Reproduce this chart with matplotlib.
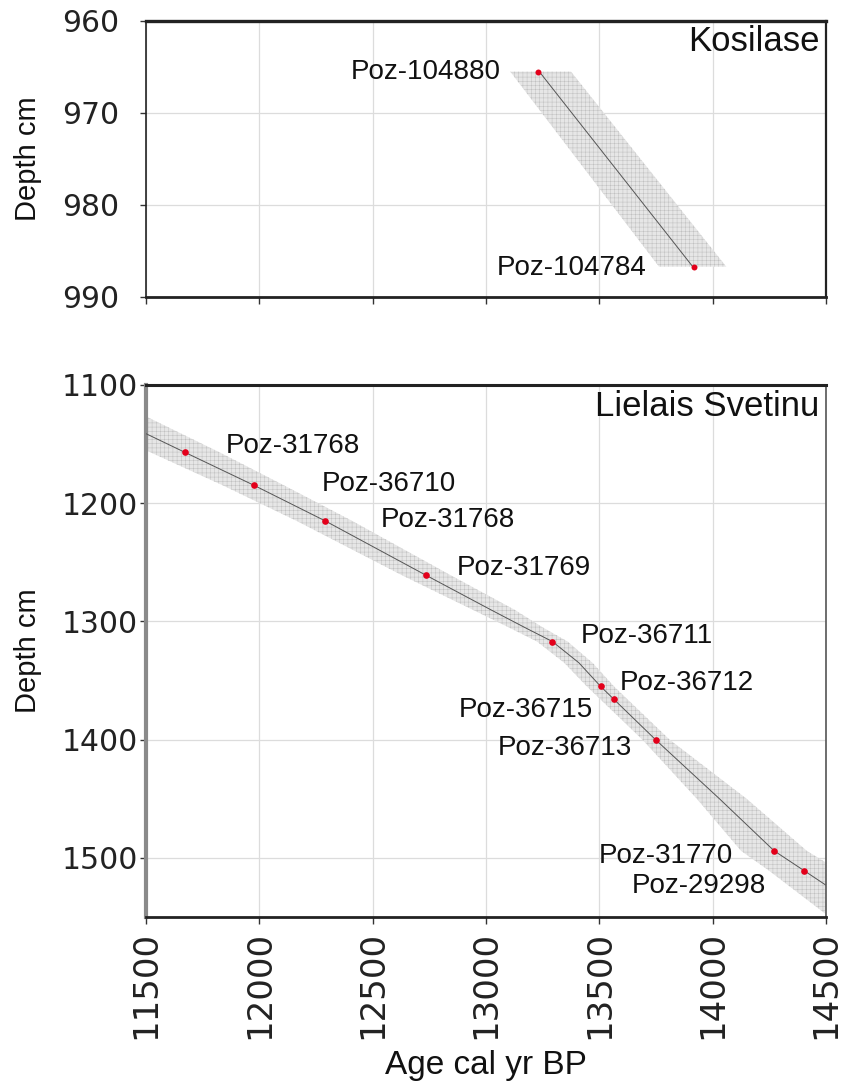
import numpy as np
import matplotlib.pyplot as plt

plt.rcParams['hatch.linewidth'] = 0.35

# Kosilase (upper panel)
kos_labels = ['Poz-104880', 'Poz-104784']
kos_age = [13228, 13916]
kos_depth = [965.5, 986.7]
kos_band_depth = [965.5, 986.7]
kos_band_min = [13107, 13763]
kos_band_max = [13375, 14060]
kos_line_age = [13235, 13912]

# Lielais Svetinu (lower panel)
lsv_labels = ['Poz-31768', 'Poz-36710', 'Poz-31768', 'Poz-31769', 'Poz-36711',
              'Poz-36715', 'Poz-36712', 'Poz-36713', 'Poz-31770', 'Poz-29298']
lsv_age = [11672, 11978, 12291, 12736, 13293, 13506, 13565, 13748, 14271, 14405]
lsv_depth = [1157, 1185, 1215, 1261, 1317, 1355, 1366, 1400, 1494, 1511]
lsv_model_depth = [1120, 1157, 1185, 1215, 1261, 1290, 1305, 1317, 1335, 1355,
                   1366, 1400, 1450, 1494, 1511, 1555]
lsv_model_age = [11270, 11672, 11978, 12291, 12736, 13020, 13170, 13293, 13410,
                 13506, 13565, 13748, 14030, 14271, 14405, 14750]
lsv_band_min = [11110, 11520, 11840, 12165, 12630, 12940, 13100, 13225, 13345,
                13445, 13505, 13690, 13930, 14125, 14250, 14550]
lsv_band_max = [11430, 11825, 12110, 12410, 12845, 13125, 13250, 13360, 13470,
                13565, 13625, 13810, 14150, 14415, 14560, 14950]

# label offsets in pixels (dx, dy, ha)
kos_offsets = [(-37, 0, 'right'), (-47, 1, 'right')]
lsv_offsets = [(41, -6, 'left'), (67, -1, 'left'), (55, -1, 'left'),
               (31, -7, 'left'), (28, -6, 'left'), (-8, 24, 'right'),
               (6, -16, 'left'), (-24, 8, 'right'), (-41, 5, 'right'),
               (-38, 15, 'right')]

W, H = 842, 1081
fig = plt.figure(figsize=(W / 100, H / 100), dpi=100)
ax_top = fig.add_axes([146 / W, 1 - 297 / H, 680 / W, 276 / H])
ax_bot = fig.add_axes([146 / W, 1 - 917 / H, 680 / W, 532 / H])

px = 0.72  # points per pixel
band_kw = dict(facecolor='#e6e6e6', edgecolor='#c0c0c0', hatch='++++',
               linewidth=0, zorder=2)


def style_axes(ax, yticks, ylim):
    ax.set_xlim(11500, 14500)
    ax.set_ylim(ylim)
    ax.set_xticks(np.arange(11500, 14501, 500))
    ax.set_yticks(yticks)
    ax.grid(True, color='#dcdcdc', linewidth=0.9, zorder=0)
    ax.set_axisbelow(True)
    ax.tick_params(axis='y', length=4, width=1, color='#333333',
                   labelsize=21.5, labelcolor='#222222',
                   pad=(146 - 62) * px - 4)
    for lab in ax.get_yticklabels():
        lab.set_horizontalalignment('left')
        lab.set_fontfamily('DejaVu Sans')
    ax.tick_params(axis='x', length=5, width=1, color='#333333')
    ax.set_ylabel('Depth cm', family='Liberation Sans', fontsize=21,
                  color='#111111')
    ax.yaxis.set_label_coords(-0.153, 0.5)


# upper panel
style_axes(ax_top, [960, 970, 980, 990], (990, 960))
ax_top.tick_params(axis='x', labelbottom=False)
ax_top.fill_betweenx(kos_band_depth, kos_band_min, kos_band_max, **band_kw)
ax_top.plot(kos_line_age, kos_depth, color='#555555', linewidth=0.7, zorder=3)
ax_top.plot(kos_age, kos_depth, 'o', color='#e3001b', markersize=4.3,
            markeredgewidth=0, zorder=4)
for lab, a, d, (dx, dy, ha) in zip(kos_labels, kos_age, kos_depth, kos_offsets):
    ax_top.annotate(lab, (a, d), xytext=(dx * px, -dy * px),
                    textcoords='offset points', ha=ha, va='center',
                    family='Liberation Sans', fontsize=20, color='#111111',
                    zorder=5)
ax_top.text(0.99, 0.985, 'Kosilase', transform=ax_top.transAxes, ha='right',
            va='top', family='Liberation Sans', fontsize=25, color='#111111')
for side, lw in [('top', 2.4), ('left', 1.2), ('right', 1.6), ('bottom', 2.0)]:
    ax_top.spines[side].set_linewidth(lw)
    ax_top.spines[side].set_color('#222222')

# lower panel
style_axes(ax_bot, [1100, 1200, 1300, 1400, 1500], (1550, 1100))
ax_bot.fill_betweenx(lsv_model_depth, lsv_band_min, lsv_band_max, **band_kw)
ax_bot.plot(lsv_model_age, lsv_model_depth, color='#555555', linewidth=0.7,
            zorder=3)
ax_bot.plot(lsv_age, lsv_depth, 'o', color='#e3001b', markersize=4.8,
            markeredgewidth=0, zorder=4)
for lab, a, d, (dx, dy, ha) in zip(lsv_labels, lsv_age, lsv_depth, lsv_offsets):
    ax_bot.annotate(lab, (a, d), xytext=(dx * px, -dy * px),
                    textcoords='offset points', ha=ha, va='center',
                    family='Liberation Sans', fontsize=20, color='#111111',
                    zorder=5)
ax_bot.text(0.99, 0.99, 'Lielais Svetinu', transform=ax_bot.transAxes,
            ha='right', va='top', family='Liberation Sans', fontsize=25,
            color='#111111')
ax_bot.tick_params(axis='x', labelsize=24.5, labelcolor='#222222',
                   labelrotation=90, pad=5)
for lab in ax_bot.get_xticklabels():
    lab.set_fontfamily('DejaVu Sans')
ax_bot.set_xlabel('Age cal yr BP', family='Liberation Sans', fontsize=24,
                  color='#111111')
ax_bot.xaxis.set_label_coords(0.5, -0.25)
for side, lw, c in [('top', 2.2, '#222222'), ('left', 3.0, '#8a8a8a'),
                    ('right', 1.2, '#555555'), ('bottom', 2.0, '#222222')]:
    ax_bot.spines[side].set_linewidth(lw)
    ax_bot.spines[side].set_color(c)

fig.savefig('out.png', dpi=100)
